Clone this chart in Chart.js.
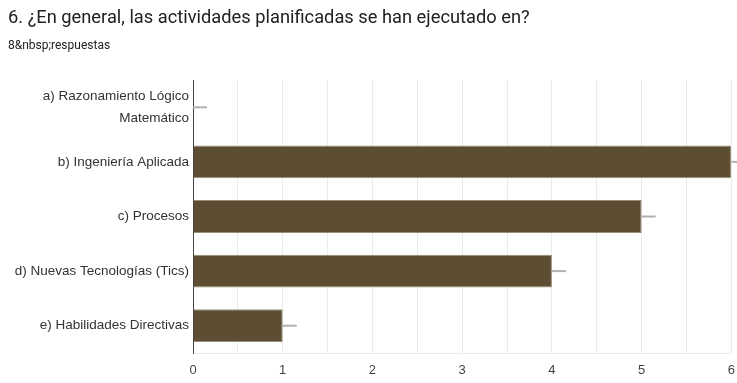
<!DOCTYPE html>
<html>
<head>
<meta charset="utf-8">
<script src="https://cdn.jsdelivr.net/npm/chart.js@4/dist/chart.umd.min.js"></script>
<style>
  html, body { margin: 0; padding: 0; background: #ffffff; }
  #wrap { position: relative; width: 737px; height: 383px; overflow: hidden; }
  #title { position: absolute; left: 8px; top: 6px; font-family: Roboto, "Liberation Sans", sans-serif; font-size: 18.3px; color: #202124; white-space: nowrap; }
  #sub { position: absolute; left: 8px; top: 38px; font-family: Roboto, "Liberation Sans", sans-serif; font-size: 12px; color: #202124; white-space: nowrap; }
  canvas { position: absolute; left: 0; top: 0; }
</style>
</head>
<body>
<div id="wrap">
  <canvas id="c" width="745" height="383"></canvas>
  <div id="title">6. ¿En general, las actividades planificadas se han ejecutado en?</div>
  <div id="sub">8&amp;nbsp;respuestas</div>
</div>
<script>
const categories = [
  ["a) Razonamiento Lógico", "Matemático"],
  "b) Ingeniería Aplicada",
  "c) Procesos",
  "d) Nuevas Tecnologías (Tics)",
  "e) Habilidades Directivas"
];
const counts = [0, 6, 5, 4, 1];
const xTickLabels = ["0", "1", "2", "3", "4", "5", "6"];

const endMarks = {
  id: 'endMarks',
  afterDatasetsDraw(chart) {
    const ctx = chart.ctx;
    const meta = chart.getDatasetMeta(0);
    ctx.save();
    ctx.strokeStyle = '#b0b0b0';
    ctx.lineWidth = 2;
    meta.data.forEach((bar) => {
      ctx.beginPath();
      ctx.moveTo(bar.x, bar.y);
      ctx.lineTo(bar.x + 14, bar.y);
      ctx.stroke();
    });
    ctx.restore();
  }
};

new Chart(document.getElementById('c'), {
  type: 'bar',
  data: {
    labels: categories,
    datasets: [{
      data: counts,
      backgroundColor: '#5d4e33',
      borderColor: '#9a8e78',
      borderWidth: 1,
      barPercentage: 0.6,
      categoryPercentage: 1.0
    }]
  },
  options: {
    indexAxis: 'y',
    responsive: false,
    animation: false,
    layout: { padding: { top: 80, right: 0, left: 0, bottom: 0 } },
    plugins: { legend: { display: false }, tooltip: { enabled: false } },
    scales: {
      x: {
        min: 0, max: 6,
        ticks: {
          stepSize: 0.5,
          autoSkip: false,
          maxRotation: 0,
          color: '#444444',
          font: { family: '"Liberation Sans", Arial, sans-serif', size: 13 },
          padding: 10,
          callback: (v) => Number.isInteger(v) ? xTickLabels[v] : ''
        },
        grid: { color: '#ebebeb', lineWidth: 1, drawTicks: false },
        border: { color: '#ebebeb' },
        afterFit(scale) { scale.height = 30; }
      },
      y: {
        ticks: {
          color: '#333333',
          font: { family: '"Liberation Sans", Arial, sans-serif', size: 13.5, lineHeight: 1.7 },
          padding: 4
        },
        grid: { display: false, drawTicks: false },
        border: { color: '#444444', width: 1 },
        afterFit(scale) { scale.width = 193; }
      }
    }
  },
  plugins: [endMarks]
});
</script>
</body>
</html>
